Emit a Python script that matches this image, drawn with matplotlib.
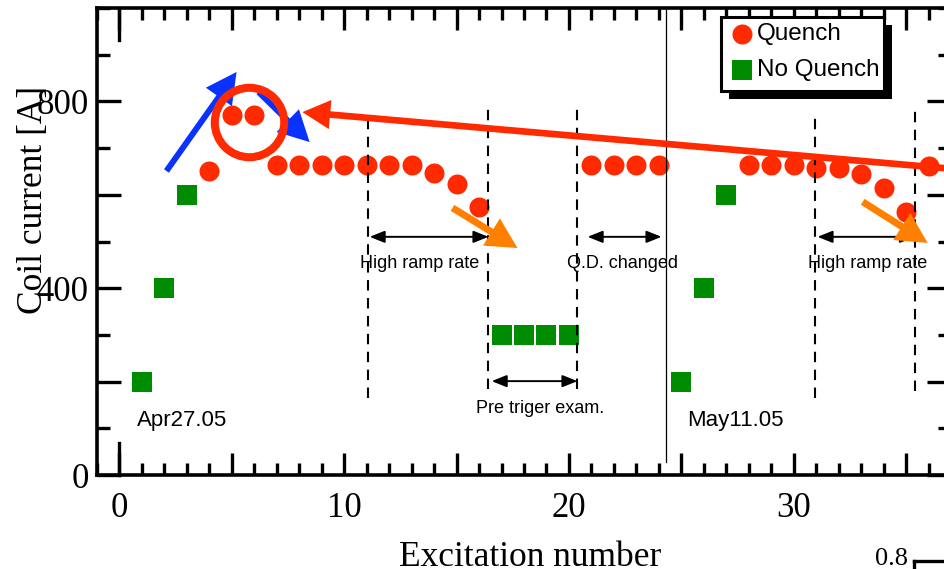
import matplotlib
matplotlib.use("Agg")
import matplotlib.pyplot as plt
from matplotlib.patches import FancyArrowPatch, Rectangle
from matplotlib.lines import Line2D
from matplotlib.ticker import FixedLocator, MultipleLocator

# excitation runs that quenched
quench_x = [4, 5, 6, 7, 8, 9, 10, 11, 12, 13, 14, 15, 16,
            21, 22, 23, 24,
            28, 29, 30, 31, 32, 33, 34, 35, 36]
quench_i = [650, 770, 770, 663, 663, 663, 663, 663, 663, 663, 646, 624, 573,
            663, 663, 663, 663,
            663, 663, 663, 657, 657, 644, 614, 563, 661]

# excitation runs held without quench
noquench_x = [1, 2, 3, 17, 18, 19, 20, 25, 26, 27]
noquench_i = [200, 400, 600, 300, 300, 300, 300, 200, 400, 600]

# boundaries between test conditions
dash_x = [11.05, 16.42, 20.38, 30.97, 35.42]
dash_top = [765, 785, 785, 770, 785]
dash_bottom = [165, 185, 185, 165, 180]
session_x = 24.3

# condition spans: (start, end, level, label, label_x, label_y)
spans = [
    (11.13, 16.42, 510, "High ramp rate", 13.37, 443),
    (20.83, 24.12, 510, "Q.D. changed", 22.4, 443),
    (16.56, 20.38, 201, "Pre triger exam.", 18.7, 133),
    (31.06, 35.40, 510, "High ramp rate", 33.27, 443),
]
dates = [("Apr27.05", 0.8, 105), ("May11.05", 25.28, 105)]

RED = "#ff2a00"
GREEN = "#008c00"
BLUE = "#0a32ff"
ORANGE = "#ff8000"

serif = ["Liberation Serif", "DejaVu Serif"]
sans = ["Liberation Sans", "DejaVu Sans"]

fig = plt.figure(figsize=(9.44, 5.69), dpi=100)
ax = fig.add_axes([97 / 944, 94 / 569, 854 / 944, 467 / 569])
ax.set_xlim(-1, 37)
ax.set_ylim(0, 1000)

# axes frame and ticks
for s in ax.spines.values():
    s.set_linewidth(2.6)
ax.xaxis.set_major_locator(FixedLocator(range(0, 40, 5)))
ax.xaxis.set_minor_locator(MultipleLocator(1))
ax.set_xticklabels([str(v) if v % 10 == 0 else "" for v in range(0, 40, 5)])
ax.yaxis.set_major_locator(FixedLocator(range(0, 1000, 200)))
ax.yaxis.set_minor_locator(MultipleLocator(100))
ax.set_yticklabels([str(v) if v % 400 == 0 else "" for v in range(0, 1000, 200)])
ax.tick_params(which="both", direction="in", top=True, right=True, width=2.4)
ax.tick_params(axis="x", which="major", length=16, pad=12)
ax.tick_params(axis="x", which="minor", length=8.5)
ax.tick_params(axis="y", which="major", length=17, pad=6)
ax.tick_params(axis="y", which="minor", length=9.5)
for lab in ax.get_xticklabels() + ax.get_yticklabels():
    lab.set_fontfamily(serif)
    lab.set_fontsize(25)

# longer tick at the origin, top and bottom
for y0, y1 in [(0, 68), (1000, 932)]:
    ax.plot([0, 0], [y0, y1], color="k", lw=2.4, clip_on=False, zorder=2.5)

ax.set_xlabel("Excitation number", fontsize=25.5, family=serif)
ax.set_ylabel("Coil current [A]", fontsize=25.5, family=serif)
ax.xaxis.set_label_coords((530 - 97) / 854, -0.142)
ax.yaxis.set_label_coords(-0.055, 0.59)

# data points
ax.plot(quench_x, quench_i, "o", color=RED, markersize=14.4, mew=0, zorder=3)
ax.plot(noquench_x, noquench_i, "s", color=GREEN, markersize=15, mew=0, zorder=3)

# condition boundaries
for x, y0, y1 in zip(dash_x, dash_bottom, dash_top):
    ax.plot([x, x], [y0, y1], color="k", lw=1.5, ls=(0, (5, 3.6)), zorder=4)
ax.plot([session_x, session_x], [28, 1000], color="k", lw=0.9, zorder=4)

for x0, x1, y, text, tx, ty in spans:
    ax.annotate("", xy=(x1, y), xytext=(x0, y),
                arrowprops=dict(arrowstyle="<|-|>,head_length=0.9,head_width=0.36",
                                mutation_scale=10, lw=1.4, color="k",
                                shrinkA=0, shrinkB=0), zorder=4)
    ax.text(tx, ty, text, ha="center", va="baseline", fontsize=13, family=sans)

for text, x, y in dates:
    ax.text(x, y, text, ha="left", va="baseline", fontsize=16, family=sans)


# highlight arrows
def big_arrow(start, end, color, tail, head_len, head_w):
    style = "simple,head_length=%g,head_width=%g,tail_width=%g" % (head_len, head_w, tail)
    ax.add_patch(FancyArrowPatch(start, end, arrowstyle=style, mutation_scale=1,
                                 color=color, lw=0, shrinkA=0, shrinkB=0, zorder=5))


big_arrow((2.09, 651), (5.21, 863), BLUE, 4.3, 22, 23)
big_arrow((6.19, 820), (8.46, 713), BLUE, 4.3, 22, 23)
ax.plot([5.76], [755], "o", mfc="none", mec=RED, markersize=50, mew=5.8, zorder=6)
big_arrow((37.2, 655), (8.14, 777), RED, 4.8, 20, 21)
big_arrow((14.82, 572), (17.71, 486), ORANGE, 5, 22, 23)
big_arrow((33.07, 585), (35.96, 497), ORANGE, 5, 22, 23)

# legend box with drop shadow
bx0, bx1 = (721 - 97) / 854, (884 - 97) / 854
by0, by1 = (475 - 91) / 467, (475 - 17) / 467
ax.add_patch(Rectangle((bx0 + 0.0094, by0 - 0.0171), bx1 - bx0, by1 - by0,
                       transform=ax.transAxes, facecolor="k", edgecolor="none",
                       zorder=9, clip_on=False))
ax.add_patch(Rectangle((bx0, by0), bx1 - bx0, by1 - by0, transform=ax.transAxes,
                       facecolor="white", edgecolor="k", lw=2.2, zorder=10,
                       clip_on=False))
mx, tx = (742 - 97) / 854, (757 - 97) / 854
for (marker, color, label, size), ly in zip(
        [("o", RED, "Quench", 14.4), ("s", GREEN, "No Quench", 15)],
        [(475 - 34) / 467, (475 - 70) / 467]):
    ax.add_line(Line2D([mx], [ly], marker=marker, color=color, markersize=size,
                       mew=0, transform=ax.transAxes, zorder=11, clip_on=False))
    ax.text(tx, ly, label, transform=ax.transAxes, ha="left", va="center",
            fontsize=17.5, family=sans, zorder=11)

# edge of the neighbouring panel
fig.text(875 / 944, 1 - 548 / 569, "0.8", ha="left", va="top", fontsize=19,
         family=serif)
fig.add_artist(Line2D([914 / 944, 1.0], [1 - 561 / 569, 1 - 561 / 569],
                      color="k", lw=2.4, transform=fig.transFigure))
fig.add_artist(Line2D([914 / 944, 914 / 944], [1 - 561 / 569, 0],
                      color="k", lw=2.4, transform=fig.transFigure))

fig.savefig("out.png", dpi=100)
